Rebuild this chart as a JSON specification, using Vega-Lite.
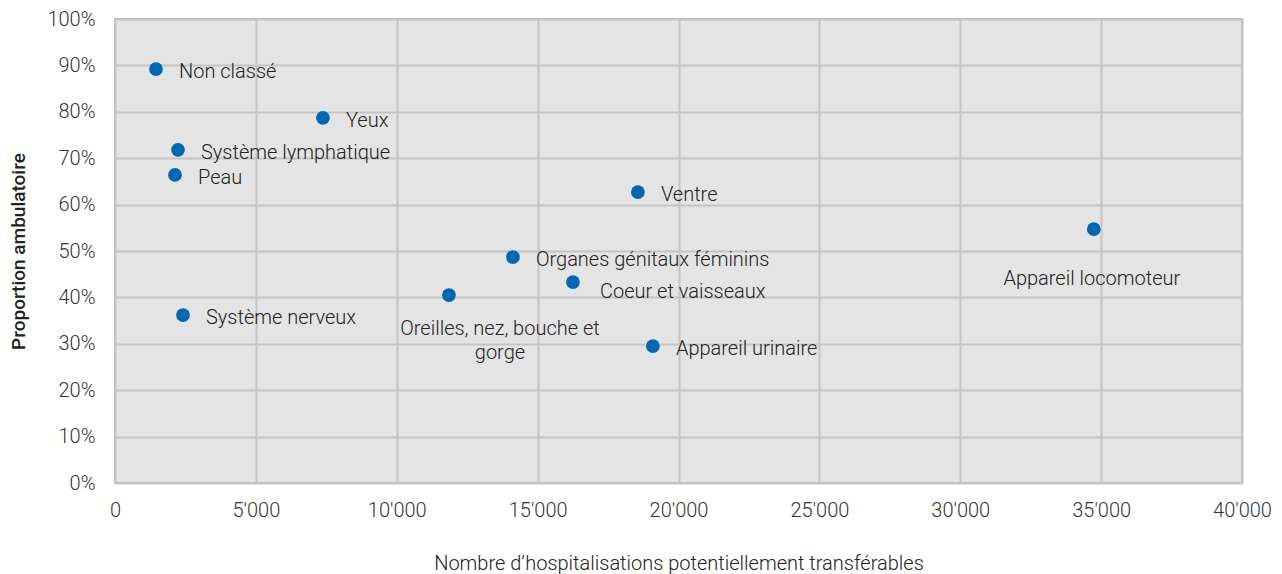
{
  "$schema": "https://vega.github.io/schema/vega-lite/v6.json",
  "width": 1127,
  "height": 464,
  "autosize": {"type": "none"},
  "padding": {"left": 115, "top": 19, "right": 40, "bottom": 91},
  "background": "white",
  "config": {
    "font": "Roboto",
    "view": {"fill": "#e4e4e4", "stroke": "#bfbfbf", "strokeWidth": 2},
    "axis": {
      "gridColor": "#c4c4c4",
      "gridWidth": 2,
      "gridOpacity": 1,
      "domain": false,
      "ticks": false,
      "labelFont": "Roboto",
      "labelFontSize": 20,
      "labelFontWeight": 300,
      "labelColor": "#333333",
      "labelFlush": false,
      "titleFont": "Roboto",
      "titleColor": "#222222"
    }
  },
  "data": {
    "values": [
      {"name": "Non classé", "n": 1455, "p": 0.892},
      {"name": "Yeux", "n": 7381, "p": 0.787},
      {"name": "Système lymphatique", "n": 2236, "p": 0.718},
      {"name": "Peau", "n": 2129, "p": 0.664},
      {"name": "Système nerveux", "n": 2413, "p": 0.362},
      {"name": "Oreilles, nez, bouche et\ngorge", "n": 11853, "p": 0.405},
      {"name": "Organes génitaux féminins", "n": 14124, "p": 0.487},
      {"name": "Coeur et vaisseaux", "n": 16253, "p": 0.433},
      {"name": "Ventre", "n": 18559, "p": 0.627},
      {"name": "Appareil urinaire", "n": 19091, "p": 0.295},
      {"name": "Appareil locomoteur", "n": 34740, "p": 0.547}
    ]
  },
  "encoding": {
    "x": {
      "field": "n", "type": "quantitative",
      "scale": {"domain": [0, 40000], "nice": false},
      "axis": {
        "values": [0, 5000, 10000, 15000, 20000, 25000, 30000, 35000, 40000],
        "labelExpr": "replace(format(datum.value, ','), ',', \"'\")",
        "labelPadding": 17,
        "title": "Nombre d’hospitalisations potentiellement transférables",
        "titleFontSize": 20,
        "titleFontWeight": 300,
        "titlePadding": 33
      }
    },
    "y": {
      "field": "p", "type": "quantitative",
      "scale": {"domain": [0, 1], "nice": false},
      "axis": {
        "values": [0, 0.1, 0.2, 0.3, 0.4, 0.5, 0.6, 0.7, 0.8, 0.9, 1],
        "format": ".0%",
        "labelPadding": 20,
        "title": "Proportion ambulatoire",
        "titleFontSize": 19,
        "titleFontWeight": 500,
        "titlePadding": 18
      }
    }
  },
  "layer": [
    {
      "mark": {"type": "circle", "size": 190, "opacity": 1, "color": "#0067b1"}
    },
    {
      "transform": [{"filter": {"field": "name", "oneOf": ["Non classé", "Yeux", "Système lymphatique", "Peau", "Système nerveux", "Organes génitaux féminins", "Ventre", "Appareil urinaire"]}}],
      "mark": {"type": "text", "align": "left", "baseline": "middle", "dx": 23, "dy": 3, "fontSize": 20, "fontWeight": 300, "color": "#222222"},
      "encoding": {"text": {"field": "name"}}
    },
    {
      "transform": [{"filter": {"field": "name", "equal": "Coeur et vaisseaux"}}],
      "mark": {"type": "text", "align": "left", "baseline": "middle", "dx": 27, "dy": 10, "fontSize": 20, "fontWeight": 300, "color": "#222222"},
      "encoding": {"text": {"field": "name"}}
    },
    {
      "transform": [{"filter": {"field": "name", "equal": "Oreilles, nez, bouche et\ngorge"}}],
      "mark": {"type": "text", "align": "center", "baseline": "middle", "dx": 51, "dy": 34, "lineBreak": "\n", "lineHeight": 24, "fontSize": 20, "fontWeight": 300, "color": "#222222"},
      "encoding": {"text": {"field": "name"}}
    },
    {
      "transform": [{"filter": {"field": "name", "equal": "Appareil locomoteur"}}],
      "mark": {"type": "text", "align": "center", "baseline": "middle", "dx": -2, "dy": 50, "fontSize": 20, "fontWeight": 300, "color": "#222222"},
      "encoding": {"text": {"field": "name"}}
    }
  ]
}
